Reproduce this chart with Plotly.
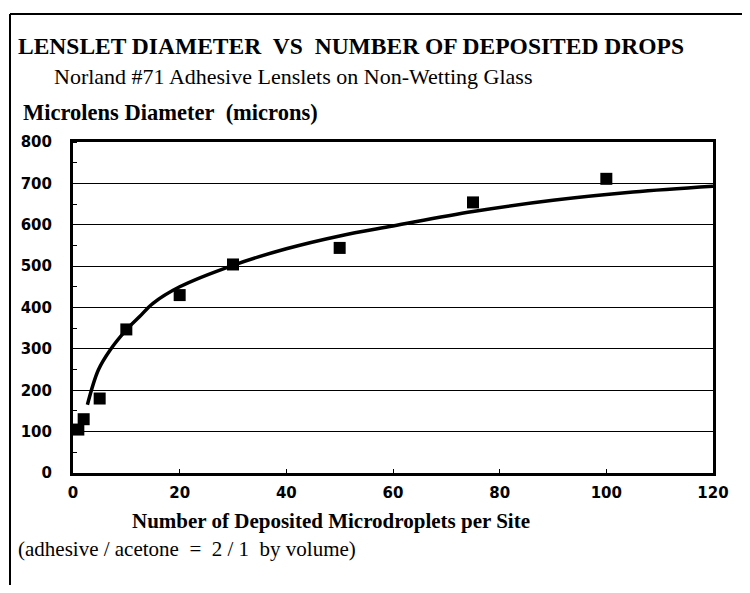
import plotly.graph_objects as go

drops = [1, 2, 5, 10, 20, 30, 50, 75, 100]
diameter = [105, 130, 180, 347, 430, 504, 544, 654, 711]

# Fitted trend curve
fit_x = [2.7, 4.75, 7, 10, 12.5, 15, 20, 30, 40, 50, 60, 75, 90, 105, 120]
fit_y = [165, 249, 298, 346, 378, 410, 450, 502, 542, 573, 597, 632, 659, 679, 693]

x_ticks = [0, 20, 40, 60, 80, 100, 120]
y_ticks = [0, 100, 200, 300, 400, 500, 600, 700, 800]

SERIF = "Liberation Serif, Times New Roman, serif"
SANS = "DejaVu Sans, Arial, sans-serif"

fig = go.Figure()
fig.add_trace(go.Scatter(x=fit_x, y=fit_y, mode="lines",
                         line=dict(color="black", width=3.5, shape="spline"),
                         showlegend=False, hoverinfo="skip"))
fig.add_trace(go.Scatter(x=drops, y=diameter, mode="markers",
                         marker=dict(symbol="square", size=12, color="black"),
                         showlegend=False))

# page has an 8px body margin, so the figure is drawn 8px in from the window edge;
# keep the figure small enough that the page does not overflow the window
OFF = 8
W, H = 734, 577
L, T = 65, 134
pw, ph = 640, 331
R, B = W - L - pw, H - T - ph

def px(x):
    return (x - OFF - L) / pw

def py(y):
    return (H - B - (y - OFF)) / ph

fig.update_layout(
    width=W, height=H,
    margin=dict(l=L, r=R, t=T, b=B),
    paper_bgcolor="white", plot_bgcolor="white",
    xaxis=dict(range=[0, 120], tickvals=x_ticks, ticktext=[str(v) for v in x_ticks],
               showgrid=False, zeroline=False,
               showline=True, linecolor="black", linewidth=3, mirror=True,
               ticks="inside", ticklen=4, tickwidth=1, tickcolor="black",
               tickfont=dict(family=SANS, size=15, color="black", weight="bold"),
               ticklabelstandoff=4),
    yaxis=dict(range=[0, 800], tickvals=y_ticks, ticktext=[str(v) for v in y_ticks],
               showgrid=True, gridcolor="black", gridwidth=1, zeroline=False,
               showline=True, linecolor="black", linewidth=3, mirror=True,
               ticks="",
               minor=dict(dtick=50, ticks="inside", ticklen=4, tickcolor="black", showgrid=False),
               tickfont=dict(family=SANS, size=15, color="black", weight="bold"),
               ticklabelstandoff=15),
    font=dict(family=SERIF, color="black"),
)

NB = "\u00a0"
annos = [
    dict(text="<b>LENSLET DIAMETER" + NB * 2 + "VS" + NB * 2 + "NUMBER OF DEPOSITED DROPS</b>",
         x=px(16), y=py(46), size=23.5, xanchor="left"),
    dict(text="Norland #71 Adhesive Lenslets on Non-Wetting Glass",
         x=px(52), y=py(76), size=22, xanchor="left"),
    dict(text="<b>Microlens Diameter" + NB * 2 + "(microns)</b>",
         x=px(21), y=py(113), size=22.5, xanchor="left"),
    dict(text="<b>Number of Deposited Microdroplets per Site</b>",
         x=px(331), y=py(521), size=21, xanchor="center"),
    dict(text="(adhesive / acetone" + NB * 2 + "=" + NB * 2 + "2 / 1" + NB * 2 + "by volume)",
         x=px(16), y=py(549), size=21, xanchor="left"),
]
for a in annos:
    fig.add_annotation(text=a["text"], x=a["x"], y=a["y"], xref="paper", yref="paper",
                       xanchor=a["xanchor"], yanchor="middle", showarrow=False,
                       font=dict(family=SERIF, size=a["size"], color="black"))

# Outer page border: top and left edges (right/bottom run off the image)
fig.add_shape(type="line", xref="paper", yref="paper",
              x0=px(10), x1=px(760), y0=py(14), y1=py(14),
              line=dict(color="black", width=2), layer="above")
fig.add_shape(type="line", xref="paper", yref="paper",
              x0=px(10), x1=px(10), y0=py(14), y1=py(600),
              line=dict(color="black", width=2), layer="above")

fig.write_html("out.html")
